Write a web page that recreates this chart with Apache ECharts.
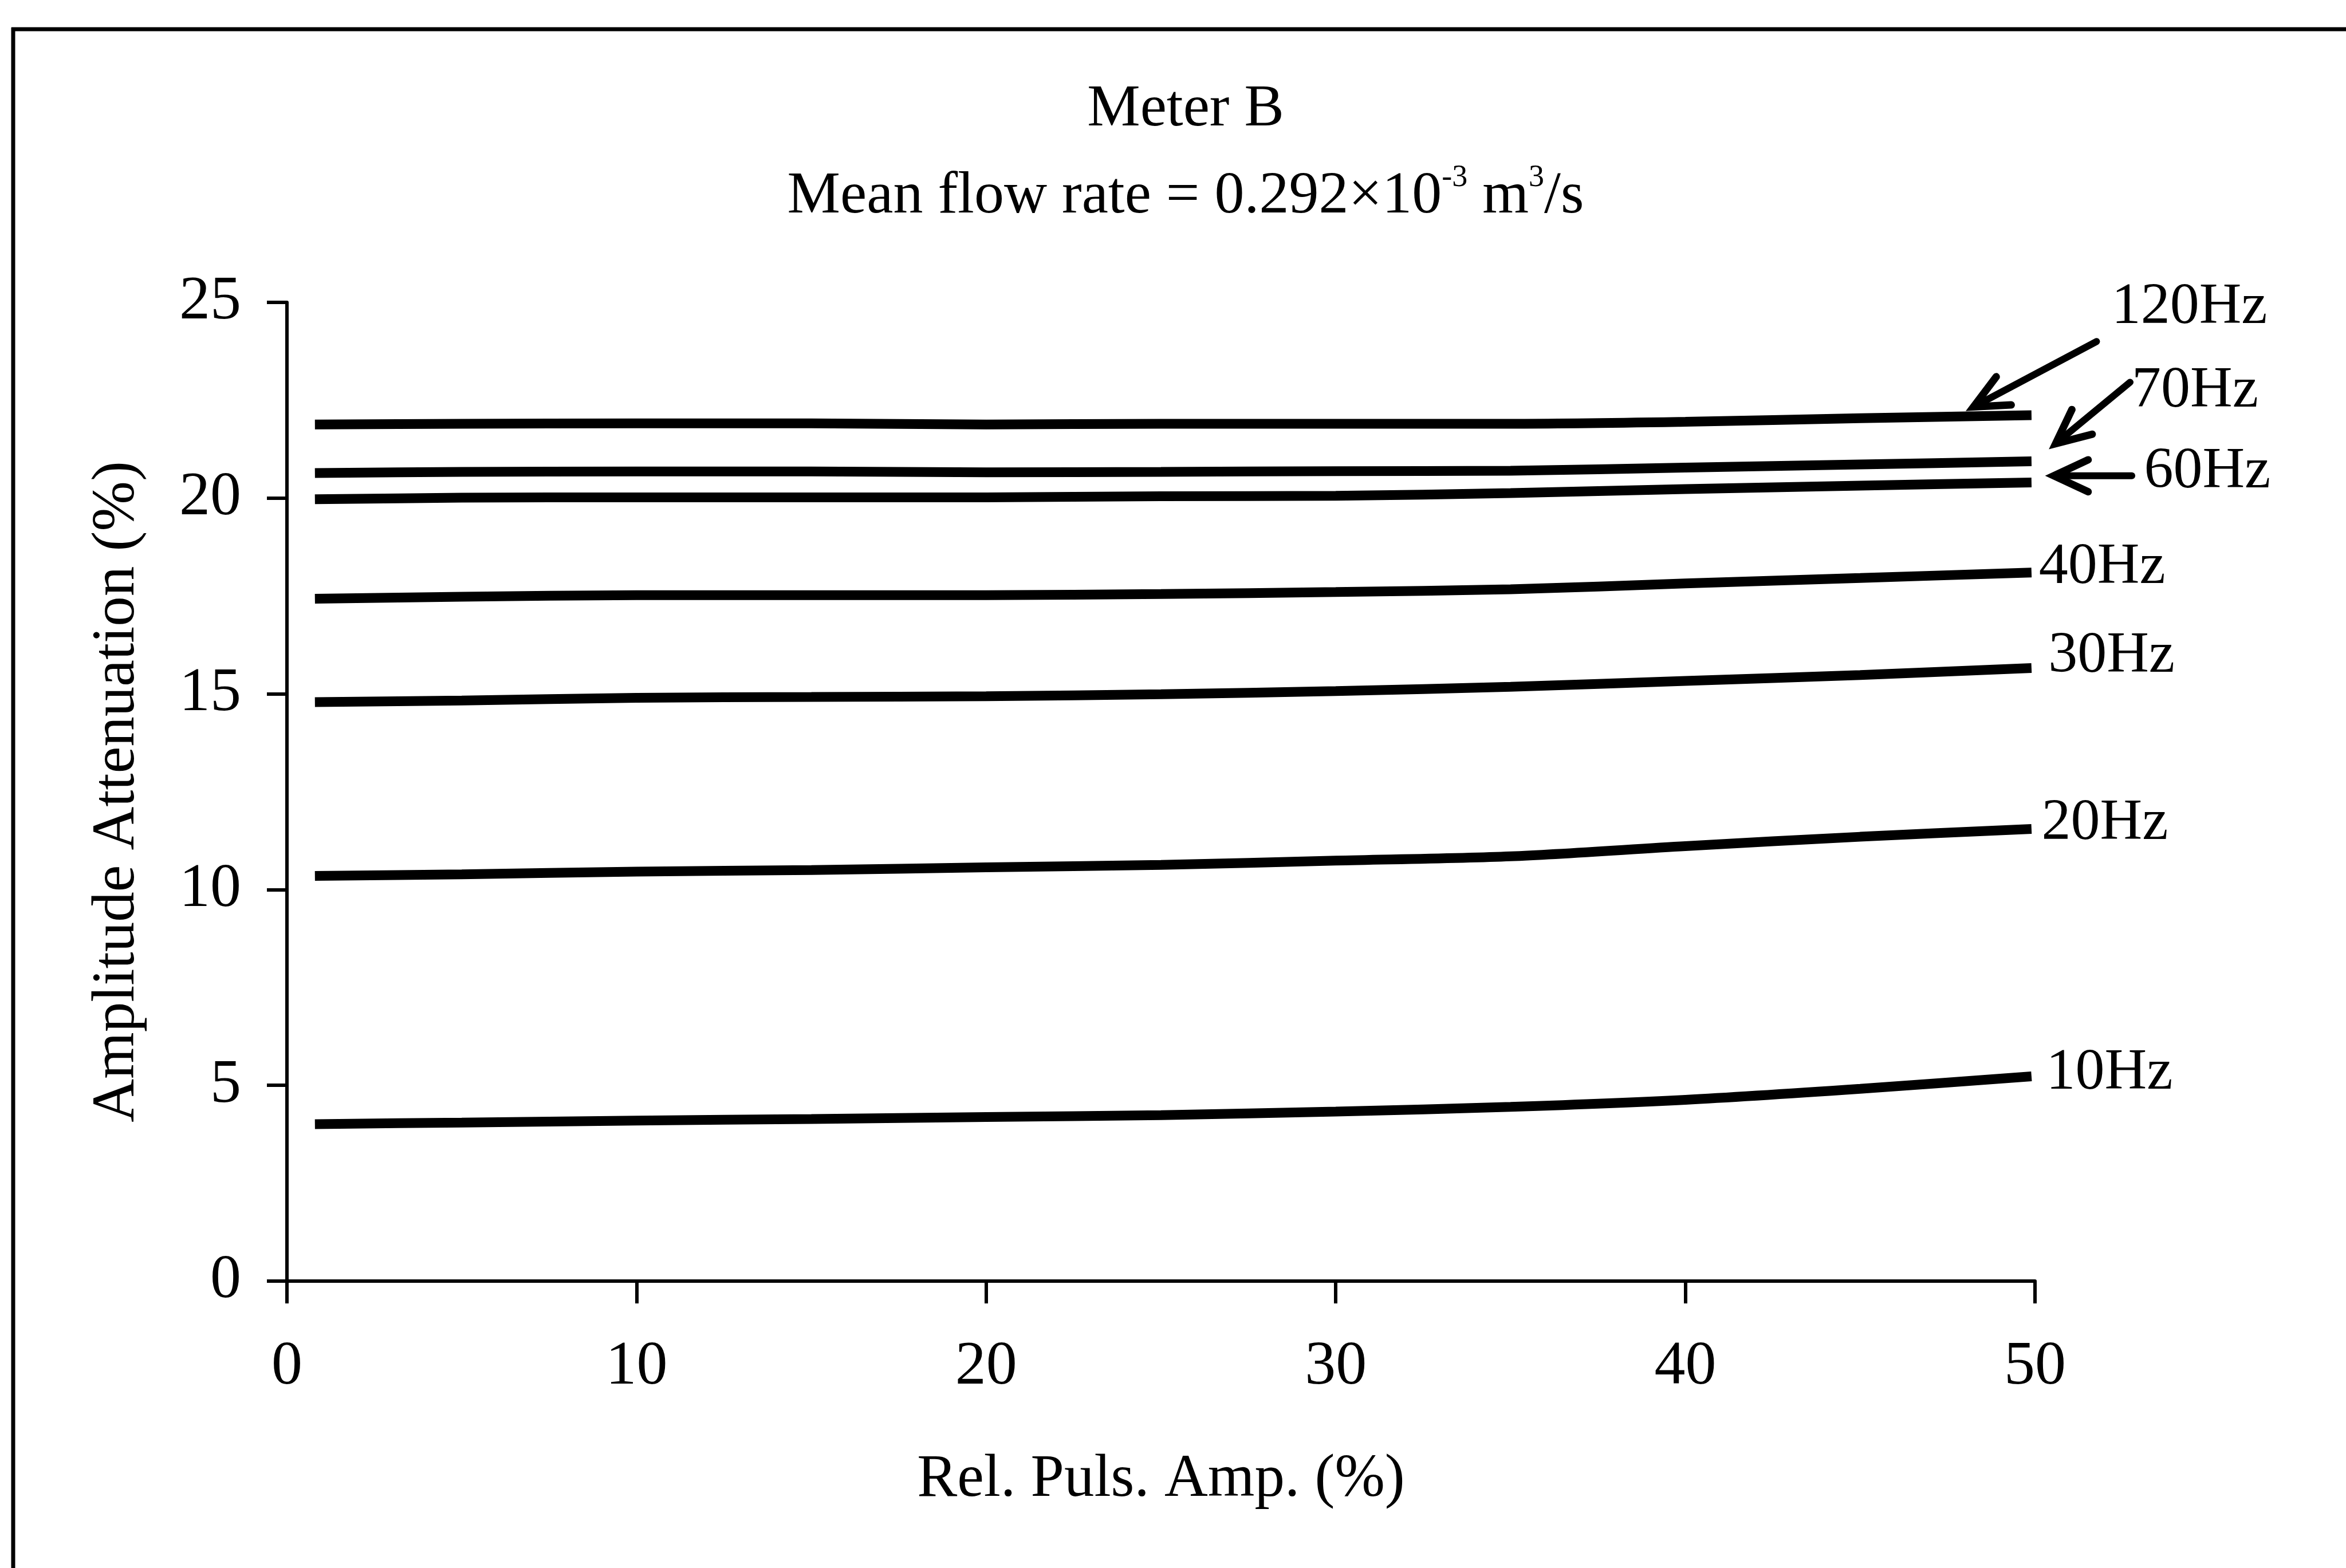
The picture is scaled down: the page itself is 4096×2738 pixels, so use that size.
<!DOCTYPE html>
<html>
<head>
<meta charset="utf-8">
<script src="https://cdn.jsdelivr.net/npm/echarts/dist/echarts.min.js"></script>
<style>
html,body{margin:0;padding:0;background:#ffffff;}
#chart{width:4096px;height:2738px;}
</style>
</head>
<body>
<div id="chart"></div>
<script>
// ---- data ----
const relPulsAmp = [0.8, 5, 10, 15, 20, 25, 30, 35, 40, 45, 49.9];
const att10Hz  = [4.01, 4.05, 4.10, 4.14, 4.19, 4.24, 4.33, 4.45, 4.63, 4.91, 5.23];
const att20Hz  = [10.35, 10.39, 10.46, 10.50, 10.57, 10.63, 10.74, 10.85, 11.11, 11.35, 11.55];
const att30Hz  = [14.79, 14.83, 14.90, 14.92, 14.94, 14.99, 15.07, 15.18, 15.33, 15.48, 15.66];
const att40Hz  = [17.43, 17.48, 17.52, 17.52, 17.52, 17.55, 17.60, 17.67, 17.82, 17.96, 18.10];
const att60Hz  = [19.97, 20.01, 20.02, 20.02, 20.02, 20.05, 20.06, 20.13, 20.23, 20.32, 20.40];
const att70Hz  = [20.64, 20.67, 20.68, 20.68, 20.66, 20.67, 20.69, 20.70, 20.78, 20.86, 20.94];
const att120Hz = [21.88, 21.90, 21.91, 21.91, 21.88, 21.90, 21.90, 21.90, 21.95, 22.04, 22.12];
const seriesNames = ['10Hz', '20Hz', '30Hz', '40Hz', '60Hz', '70Hz', '120Hz'];
const seriesValues = [att10Hz, att20Hz, att30Hz, att40Hz, att60Hz, att70Hz, att120Hz];
const xTicks = [0, 10, 20, 30, 40, 50];
const yTicks = [0, 5, 10, 15, 20, 25];

// annotation anchors in data units (label left-middle point)
const labelNames = ['120Hz', '70Hz', '60Hz', '40Hz', '30Hz', '20Hz', '10Hz'];
const labelX = [52.19, 52.77, 53.12, 50.11, 50.38, 50.19, 50.32];
const labelY = [24.86, 22.73, 20.66, 18.23, 15.96, 11.69, 5.31];
// arrows: tail -> tip, data units
const arrowTail = [[51.76, 24.0], [52.72, 22.96], [52.77, 20.57]];
const arrowTip  = [[48.24, 22.33], [50.59, 21.39], [50.54, 20.57]];

const FONT = '"Liberation Serif", "Times New Roman", serif';

const option = {
  backgroundColor: '#ffffff',
  animation: false,
  title: [
    {
      text: 'Meter B',
      left: 2070, top: 192, padding: 0,
      textAlign: 'center', textVerticalAlign: 'middle',
      textStyle: {fontFamily: FONT, fontSize: 104, fontWeight: 'normal', color: '#000', lineHeight: 120}
    },
    {
      text: 'Mean flow rate = 0.292×10{sup|-3} m{sup|3}/s',
      left: 2070, top: 344, padding: 0,
      textAlign: 'center', textVerticalAlign: 'middle',
      textStyle: {
        fontFamily: FONT, fontSize: 104, fontWeight: 'normal', color: '#000', lineHeight: 120,
        rich: {
          sup: {fontFamily: FONT, fontSize: 54, color: '#000', lineHeight: 50, verticalAlign: 'top'}
        }
      }
    }
  ],
  grid: {left: 501, right: 543, top: 528, bottom: 501, containLabel: false, outerBoundsMode: 'none'},
  xAxis: {
    type: 'value', min: 0, max: 50, interval: 10,
    name: 'Rel. Puls. Amp. (%)', nameLocation: 'middle', nameGap: 295,
    nameTextStyle: {fontFamily: FONT, fontSize: 105, color: '#000'},
    axisLine: {show: true, onZero: false, lineStyle: {color: '#000', width: 6}},
    axisTick: {show: true, inside: false, length: 39, lineStyle: {color: '#000', width: 6}},
    axisLabel: {show: true, margin: 97, fontFamily: FONT, fontSize: 108, color: '#000',
      formatter: v => xTicks.includes(v) ? String(v) : ''},
    splitLine: {show: false}
  },
  yAxis: {
    type: 'value', min: 0, max: 25, interval: 5,
    name: 'Amplitude Attenuation (%)', nameLocation: 'middle', nameGap: 243,
    nameTextStyle: {fontFamily: FONT, fontSize: 105, color: '#000'},
    axisLine: {show: true, onZero: false, lineStyle: {color: '#000', width: 6}},
    axisTick: {show: true, inside: false, length: 35, lineStyle: {color: '#000', width: 6}},
    axisLabel: {show: true, margin: 80, fontFamily: FONT, fontSize: 108, color: '#000',
      formatter: v => yTicks.includes(v) ? String(v) : ''},
    splitLine: {show: false}
  },
  series: seriesNames.map((n, i) => ({
    name: n,
    type: 'line',
    smooth: 0.3,
    showSymbol: false,
    silent: true,
    lineStyle: {color: '#000', width: 17, cap: 'butt'},
    data: relPulsAmp.map((x, j) => [x, seriesValues[i][j]])
  }))
};

const chart = echarts.init(document.getElementById('chart'), null, {renderer: 'canvas'});
chart.setOption(option);

// decorations and annotations placed through the chart's own scales
const toPx = p => chart.convertToPixel({gridIndex: 0}, p);
const graphics = [];
// scan frame (top and left edges)
graphics.push({type: 'line', shape: {x1: 20, y1: 51, x2: 4096, y2: 51}, style: {stroke: '#000', lineWidth: 7}, silent: true});
graphics.push({type: 'line', shape: {x1: 23, y1: 48, x2: 23, y2: 2738}, style: {stroke: '#000', lineWidth: 7}, silent: true});

labelNames.forEach((t, i) => {
  const p = toPx([labelX[i], labelY[i]]);
  graphics.push({
    type: 'text', x: p[0], y: p[1], silent: true,
    style: {text: t, fill: '#000', font: '102px ' + FONT, align: 'left', verticalAlign: 'middle'}
  });
});

const armLen = 66, armAng = 25 * Math.PI / 180;
arrowTail.forEach((tail, i) => {
  const a = toPx(tail), b = toPx(arrowTip[i]);
  const dx = a[0] - b[0], dy = a[1] - b[1];
  const L = Math.hypot(dx, dy), ux = dx / L, uy = dy / L;
  const rot = (ang) => [ux * Math.cos(ang) - uy * Math.sin(ang), ux * Math.sin(ang) + uy * Math.cos(ang)];
  const r1 = rot(armAng), r2 = rot(-armAng);
  graphics.push({type: 'line', silent: true, shape: {x1: a[0], y1: a[1], x2: b[0] + ux * 4, y2: b[1] + uy * 4},
    style: {stroke: '#000', lineWidth: 12, lineCap: 'round'}});
  graphics.push({type: 'polyline', silent: true,
    shape: {points: [[b[0] + r1[0] * armLen, b[1] + r1[1] * armLen], [b[0], b[1]], [b[0] + r2[0] * armLen, b[1] + r2[1] * armLen]]},
    style: {stroke: '#000', lineWidth: 13, lineJoin: 'miter', lineCap: 'round', fill: null}});
});

chart.setOption({graphic: graphics});
</script>
</body>
</html>
